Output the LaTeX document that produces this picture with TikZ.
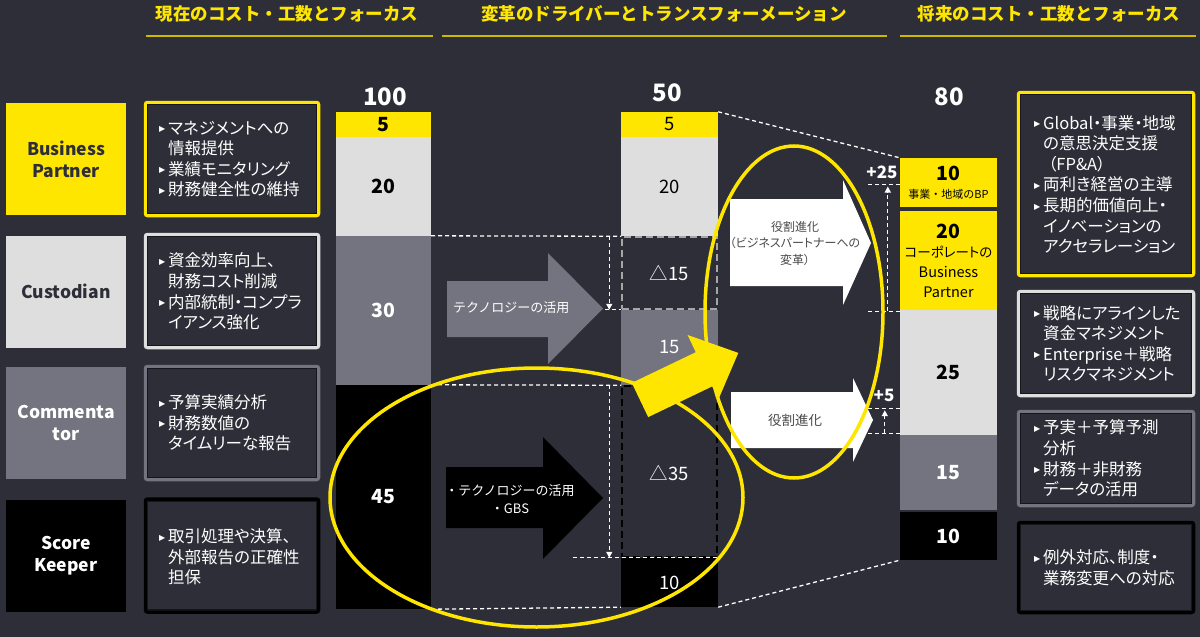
\documentclass[tikz,border=0pt]{standalone}
\usepackage{fontspec}
\setmainfont{Noto Sans CJK JP}
\newfontfamily\pf{Noto Sans CJK JP}[RawFeature=+palt]
\newfontfamily\dv{DejaVu Sans}
\usetikzlibrary{arrows.meta,calc}
\definecolor{bg}{HTML}{2E2E38}
\definecolor{eyy}{HTML}{FFE600}
\definecolor{lg}{HTML}{DEDEDE}
\definecolor{mg}{HTML}{747480}
\definecolor{ulc}{HTML}{CDB800}
\definecolor{dk}{HTML}{15151B}
\definecolor{wtxt}{HTML}{4A4A4A}
\newcommand\bul{\makebox[9pt][l]{\raisebox{2.5pt}{\dv\fontsize{8}{8}\selectfont ▶}}}
\newcommand\ind{\hspace*{9pt}}
\newcommand\sm{\mdseries\pf\fontsize{13.5}{19}\selectfont}
\newcommand\smb{\mdseries\pf\fontsize{14.5}{19}\selectfont}
\tikzset{
  hdr/.style={text=eyy, inner sep=0, font=\bfseries\fontsize{17.5}{20}\selectfont},
  lab/.style={minimum width=120, minimum height=112, inner sep=0, align=center, font=\bfseries\fontsize{17.5}{22}\selectfont},
  dbox/.style={draw=#1, line width=3.5, fill=bg, rounded corners=2, minimum width=173, minimum height=113, inner sep=0},
  inln/.style={draw=dk, line width=1.2},
  dtext/.style={anchor=west, align=left, text=white, inner sep=0, font=\pf\fontsize{16.5}{20.6}\selectfont},
  seg/.style={minimum width=#1, inner sep=0, font=\bfseries\fontsize{19.5}{21}\selectfont},
  segn/.style={minimum width=97, inner sep=0, font=\fontsize{18.5}{20}\selectfont},
  tot/.style={text=white, inner sep=0, font=\bfseries\fontsize{24}{26}\selectfont},
  atext/.style={inner sep=0, align=center, font=\fontsize{13}{18}\selectfont},
  wd/.style={white, line width=1.3, dash pattern=on 4pt off 3pt},
  wdarr/.style={wd, -{Triangle[width=6pt,length=6pt]}},
  plus/.style={text=white, inner sep=0, font=\bfseries\fontsize{17}{18}\selectfont},
  ell/.style={draw=eyy, line width=3.5},
}
\begin{document}
\begin{tikzpicture}[x=1pt,y=-1pt]
\fill[bg] (0,0) rectangle (1200,637);
\useasboundingbox (0,0) rectangle (1200,637);

% headers
\node[hdr] (H1) at (287,14) {現在のコスト・工数とフォーカス};
\node[hdr] (H2) at (664,14) {変革のドライバーとトランスフォーメーション};
\node[hdr] (H3) at (1049,14) {将来のコスト・工数とフォーカス};
\draw[ulc, line width=2] (146,36) -- (433,36);
\draw[ulc, line width=2] (442,36) -- (887,36);
\draw[ulc, line width=2] (900,36) -- (1196,36);

% left labels
\node[lab, fill=eyy, text=bg] (L1) at (66,159) {Business\\Partner};
\node[lab, fill=lg, text=bg] (L2) at (66,291.5) {Custodian};
\node[lab, fill=mg, text=white] (L3) at (66,423) {Commenta\\tor};
\node[lab, fill=black, text=white] (L4) at (66,555.5) {Score\\Keeper};

% left description boxes
\node[dbox=eyy] (D1) at (232,159) {};
\node[dbox=lg] (D2) at (232,291) {};
\node[dbox=mg] (D3) at (232,423) {};
\node[dbox=black] (D4) at (232,555.5) {};
% right description boxes
\node[dbox=eyy, minimum width=175, minimum height=183] (D5) at (1106,184) {};
\node[dbox=lg, minimum width=175, minimum height=104] (D6) at (1106,343.5) {};
\node[dbox=mg, minimum width=175, minimum height=94] (D7) at (1106,458.5) {};
\node[dbox=black, minimum width=175, minimum height=90] (D8) at (1106,567.5) {};
\foreach \n in {D1,D2,D3,D4,D5,D6,D7,D8}
  \draw[inln] ([shift={(4,4)}]\n.north west) rectangle ([shift={(-4,-4)}]\n.south east);

\node[dtext] (T1) at (159,159) {\bul マネジメントへの\\\ind 情報提供\\\bul 業績モニタリング\\\bul 財務健全性の維持};
\node[dtext] (T2) at (159,291.5) {\bul 資金効率向上、\\\ind 財務コスト削減\\\bul 内部統制・コンプラ\\\ind イアンス強化};
\node[dtext] (T3) at (159,423) {\bul 予算実績分析\\\bul 財務数値の\\\ind タイムリーな報告};
\node[dtext] (T4) at (159,557) {\bul 取引処理や決算、\\\ind 外部報告の正確性\\\ind 担保};
\node[dtext] (T5) at (1034,184.5) {\bul Global・事業・地域\\\ind の意思決定支援\\\ind\hspace*{5pt}（FP\&A）\\\bul 両利き経営の主導\\\bul 長期的価値向上・\\\ind イノベーションの\\\ind アクセラレーション};
\node[dtext] (T6) at (1034,343.5) {\bul 戦略にアラインした\\\ind 資金マネジメント\\\bul Enterprise＋戦略\\\ind リスクマネジメント};
\node[dtext] (T7) at (1034,458.5) {\bul 予実＋予算予測\\\ind 分析\\\bul 財務＋非財務\\\ind データの活用};
\node[dtext] (T8) at (1034,568) {\bul 例外対応、制度・\\\ind 業務変更への対応};

% totals
\node[tot] (N1) at (385,97) {100};
\node[tot] (N2) at (667,93) {50};
\node[tot] (N3) at (949,97) {80};

% bar 1
\node[seg=95, fill=eyy, minimum height=25] (A1) at (383.5,124.5) {5};
\node[seg=95, fill=lg, minimum height=99] (A2) at (383.5,186.5) {20};
\node[seg=95, fill=mg, minimum height=149, text=white] (A3) at (383.5,310.5) {30};
\node[seg=95, fill=black, minimum height=224, text=white] (A4) at (383.5,497) {45};

% bar 2
\node[segn, fill=eyy, minimum height=25] (B1) at (669.5,124.5) {5};
\node[segn, fill=lg, minimum height=99] (B2) at (669.5,186.5) {20};
\node[segn, draw=gray!70, line width=1.5, dash pattern=on 7pt off 4pt, minimum width=95, minimum height=72, text=white] (B3) at (669.5,273) {△15};
\node[segn, fill=mg, minimum height=75, text=white] (B4) at (669.5,347.5) {15};
\node[segn, draw=black, line width=1.5, dash pattern=on 7pt off 4pt, minimum width=95, minimum height=171, text=white] (B5) at (669.5,471.5) {};
\node[segn, text=white] (B5t) at (669.5,473) {△35};
\node[segn, fill=black, minimum height=49, text=white] (B6) at (669.5,582.5) {10};

% bar 3
\node[seg=97, fill=eyy, minimum height=49, align=center] (C1) at (948.5,182.5) {10\\[-3pt]{\mdseries\fontsize{11}{13}\selectfont 事業・地域のBP}};
\node[seg=97, fill=eyy, minimum height=100, align=center] (C2) at (948.5,261) {20\\[-2pt]{\sm コーポレートの}\\[-1pt]{\smb Business}\\[-1pt]{\smb Partner}};
\node[seg=97, fill=lg, minimum height=125] (C3) at (948.5,372.5) {25};
\node[seg=97, fill=mg, minimum height=75, text=white] (C4) at (948.5,472.5) {15};
\node[seg=97, fill=black, minimum height=48, text=white] (C5) at (948.5,536) {10};

% block arrows
\fill[mg] (447,281) -- (548,281) -- (548,253) -- (603,308.5) -- (548,364) -- (548,337) -- (447,337) -- cycle;
\node[atext, anchor=west, text=white] (G1) at (453,308) {テクノロジーの活用};
\fill[black] (446,467) -- (543,467) -- (543,437) -- (603,498) -- (543,559) -- (543,528) -- (446,528) -- cycle;
\node[atext, text=white] (K1) at (510,499) {・テクノロジーの活用\\・GBS};
\fill[white] (730,199) -- (843,199) -- (843,180) -- (871,243) -- (843,305) -- (843,286) -- (730,286) -- cycle;
\node[atext, text=wtxt, font=\pf\fontsize{12}{16.5}\selectfont] (W1) at (795,243.5) {役割進化\\（ビジネスパートナーへの\\変革）};
\fill[white] (731,392) -- (853,392) -- (853,378) -- (873,420) -- (853,462) -- (853,448) -- (731,448) -- cycle;
\node[atext, text=wtxt, font=\fontsize{13.5}{16}\selectfont] (W2) at (795,420) {役割進化};

% dashed guide lines
\draw[wd] (A3.north east) -- (B3.north west);
\draw[wdarr] ($(B3.north west)+(-12,0)$) -- ($(B3.south west)+(-12,0)$);
\draw[wd] ($(B3.south west)+(-16,0)$) -- (B3.south west);
\draw[wd] (A4.north east) -- (B5.north west);
\draw[wdarr] ($(B5.north west)+(-12,0)$) -- ($(B5.south west)+(-12,0)$);
\draw[wd] ($(B5.south west)+(-48,0)$) -- (B5.south east);
\draw[wd] (A4.south east) -- (B6.south west);
\draw[wd] (B1.north east) -- (C1.north west);
\draw[wd] (B6.south east) -- (C5.south west);

\draw[wd] ($(C1.west)+(-32,2)$) -- ($(C1.west)+(0,2)$);
\draw[wd] ($(C2.south west)+(-32,0)$) -- (C2.south west);
\draw[wdarr] ($(C2.south west)+(-12,0)$) -- ($(C1.west)+(-12,4)$);
\node[plus] (P25) at (882,172) {+25};

\draw[wd] ($(C3.south west)+(-32,-2)$) -- ($(C3.south west)+(0,-2)$);
\draw[wd] ($(C3.south west)+(-32,-27)$) -- ($(C3.south west)+(0,-27)$);
\draw[wdarr] ($(C3.south west)+(-15,-2)$) -- ($(C3.south west)+(-15,-25)$);
\node[plus] (P5) at (884,395) {+5};

% yellow thick arrow
\fill[eyy] (631.8,382.9) -- (695.8,352.2) -- (687.6,335) -- (738.3,352.9) -- (719,398) -- (712.2,386.4) -- (648.2,417.1) -- cycle;

% highlight ellipses
\draw[ell] (536.5,497.5) ellipse [x radius=206.5, y radius=129.5];
\draw[ell] (794,312) ellipse [x radius=89, y radius=166];
\end{tikzpicture}
\end{document}
